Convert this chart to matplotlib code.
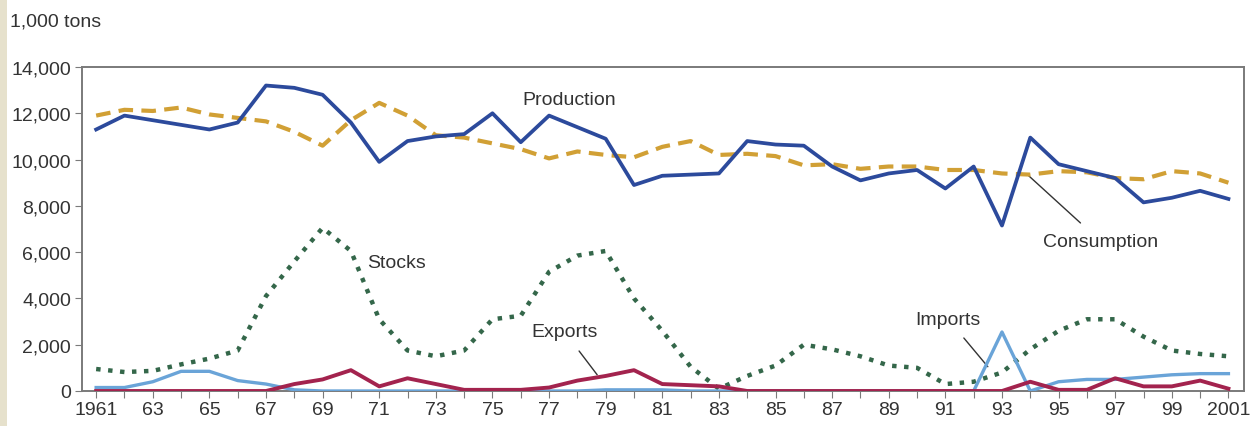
#!/usr/bin/env python3
"""
Production, consumption, stocks and trade, 1961-2001 (1,000 tons).
"""
import matplotlib
matplotlib.use("Agg")
import matplotlib.pyplot as plt
import matplotlib.patches as patches

years = list(range(1961, 2002))

production = [11300, 11900, 11700, 11500, 11300, 11600, 13200, 13100, 12800, 11600,
              9900, 10800, 11000, 11100, 12000, 10750, 11900, 11400, 10900, 8900,
              9300, 9350, 9400, 10800, 10650, 10600, 9700, 9100, 9400, 9550,
              8750, 9700, 7150, 10950, 9800, 9500, 9200, 8150, 8350, 8650,
              8300]

consumption = [11900, 12150, 12100, 12250, 11950, 11800, 11650, 11200, 10600, 11700,
               12450, 11900, 11050, 10950, 10700, 10450, 10050, 10350, 10200, 10100,
               10550, 10800, 10200, 10250, 10150, 9750, 9800, 9600, 9700, 9700,
               9550, 9550, 9400, 9350, 9500, 9450, 9200, 9150, 9500, 9400,
               9000]

stocks = [950, 820, 870, 1150, 1400, 1750, 4100, 5600, 7050, 6050,
          3100, 1750, 1500, 1750, 3100, 3250, 5150, 5850, 6050, 4000,
          2600, 1050, 100, 650, 1100, 2000, 1800, 1500, 1100, 1000,
          300, 400, 800, 1800, 2600, 3100, 3100, 2350, 1750, 1600,
          1500]

imports = [150, 150, 400, 850, 850, 450, 300, 50, 0, 0,
           0, 0, 0, 0, 0, 0, 0, 0, 50, 50,
           50, 0, 0, 0, 0, 0, 0, 0, 0, 0,
           0, 0, 2550, 0, 400, 500, 500, 600, 700, 750,
           750]

exports = [0, 0, 0, 0, 0, 0, 0, 300, 500, 900,
           200, 550, 300, 50, 50, 50, 150, 450, 650, 900,
           300, 250, 200, 0, 0, 0, 0, 0, 0, 0,
           0, 0, 0, 400, 50, 50, 550, 200, 200, 450,
           100]

ytick_values = [0, 2000, 4000, 6000, 8000, 10000, 12000, 14000]
xtick_labels = ["1961"] + ["%02d" % (y % 100) for y in range(1963, 2001, 2)] + ["2001"]

# Colors
C_PROD = "#2c4a9c"
C_CONS = "#d1a035"
C_STOCK = "#34674a"
C_IMP = "#6aa4d8"
C_EXP = "#a3234e"
C_TEXT = "#333333"
C_SPINE = "#7a7a7a"

FS = 14

plt.rcParams['font.family'] = ['Liberation Sans', 'DejaVu Sans']

fig = plt.figure(figsize=(12.53, 4.27), dpi=100)
fig.patch.set_facecolor("white")

# thin beige strip on the left edge
fig.patches.append(patches.Rectangle((0, 0), 7 / 1253, 1, transform=fig.transFigure,
                                     facecolor="#e6e1cc", edgecolor="none", zorder=0))

ax = fig.add_axes([82 / 1253, 35 / 427, (1244 - 82) / 1253, (392 - 68) / 427])

ax.plot(years, stocks, color=C_STOCK, linewidth=3.2, linestyle=(0, (1.0, 1.7)),
        dash_capstyle="butt", zorder=3)
ax.plot(years, imports, color=C_IMP, linewidth=2.4, zorder=4)
ax.plot(years, exports, color=C_EXP, linewidth=2.8, zorder=5)
ax.plot(years, consumption, color=C_CONS, linewidth=3.0, linestyle=(0, (3.5, 2.0)),
        dash_capstyle="butt", zorder=6)
ax.plot(years, production, color=C_PROD, linewidth=2.7, zorder=7)

ax.set_xlim(1960.5, 2001.55)
ax.set_ylim(0, 14000)

ax.set_yticks(ytick_values)
ax.set_yticklabels(["{:,}".format(v) for v in ytick_values])
ax.set_xticks(years, minor=True)
ax.set_xticks(list(range(1961, 2002, 2)))
ax.set_xticklabels(xtick_labels)

ax.tick_params(axis="both", which="both", direction="out", colors=C_SPINE,
               labelcolor=C_TEXT, labelsize=FS, width=0.8)
ax.tick_params(axis="y", length=5, pad=3)
ax.tick_params(axis="x", which="both", length=5, pad=2)

for side in ["left", "right", "top", "bottom"]:
    ax.spines[side].set_color(C_SPINE)
    ax.spines[side].set_linewidth(1.4)

# unit label
fig.text(10 / 1253, 1 - 22 / 427, "1,000 tons", fontsize=FS, color=C_TEXT,
         ha="left", va="center")

# series labels
ax.text(1977.7, 12600, "Production", fontsize=FS, color=C_TEXT, ha="center", va="center")
ax.text(1971.6, 5550, "Stocks", fontsize=FS, color=C_TEXT, ha="center", va="center")
ax.annotate("Consumption", xy=(1993.9, 9350), xytext=(1996.5, 6450),
            fontsize=FS, color=C_TEXT, ha="center", va="center",
            arrowprops=dict(arrowstyle="-", color="#333333", lw=1.0,
                            shrinkA=8, shrinkB=0))
ax.annotate("Exports", xy=(1978.7, 700), xytext=(1977.55, 2550),
            fontsize=FS, color=C_TEXT, ha="center", va="center",
            arrowprops=dict(arrowstyle="-", color="#333333", lw=1.0,
                            shrinkA=7, shrinkB=0))
ax.annotate("Imports", xy=(1992.5, 1050), xytext=(1991.1, 3100),
            fontsize=FS, color=C_TEXT, ha="center", va="center",
            arrowprops=dict(arrowstyle="-", color="#333333", lw=1.0,
                            shrinkA=7, shrinkB=0))

fig.savefig("out.png", dpi=100, facecolor=fig.get_facecolor())
